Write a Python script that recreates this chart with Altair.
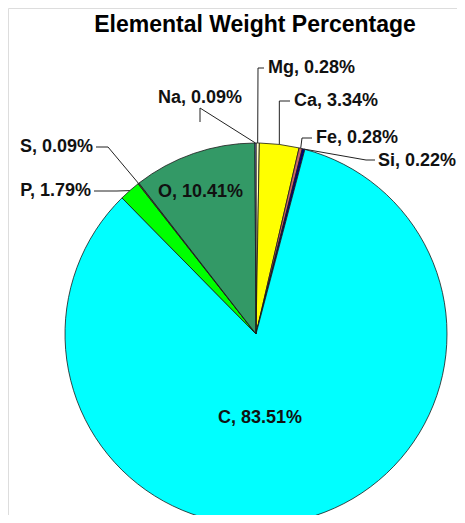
import math
import altair as alt
import pandas as pd

# ---- data ----
elements = ["Mg", "Ca", "Fe", "Si", "C", "P", "S", "O", "Na"]
percents = [0.28, 3.34, 0.28, 0.22, 83.51, 1.79, 0.09, 10.41, 0.09]
colors = ["#FFFFCC", "#FFFF00", "#CC6666", "#000080", "#00FFFF",
          "#00FF00", "#666633", "#339966", "#9999FF"]
title_text = "Elemental Weight Percentage"

# ---- layout (chart pixel coords; page = chart + 8) ----
W, H = 449, 507
CX, CY, R = 248, 326, 191
FONT = "Liberation Sans"

# label anchor positions (annotation placement), align, elbow points of leaders
label_pos = {
    "Mg": (260, 60, "left", [(250, 60), (256, 60)]),
    "Na": (192, 90, "center", [(192, 100), (192, 114)]),
    "Ca": (286, 93, "left", [None, (282, 93)]),
    "Fe": (308, 130, "left", [(294, 130), (304, 130)]),
    "Si": (370, 153, "left", [(358, 152), (367, 152)]),
    "S": (85, 139, "right", [(100, 139), (88, 139)]),
    "P": (83, 183, "right", [(109, 183), (86, 183)]),
    "O": (150, 184, "left", None),
    "C": (252, 410, "center", None),
}

df = pd.DataFrame({"element": elements, "pct": percents,
                   "idx": list(range(len(elements)))})

total = sum(percents)
cum = 0.0
edge = {}
for e, p in zip(elements, percents):
    a = (cum + p / 2) / total * 2 * math.pi
    edge[e] = (CX + R * math.sin(a), CY - R * math.cos(a))
    cum += p

line_rows = []
text_rows = []
for e, p in zip(elements, percents):
    lx, ly, al, elbows = label_pos[e]
    text_rows.append({"label": f"{e}, {p:.2f}%", "px": lx, "py": ly, "align": al})
    if elbows is None:
        continue
    ex, ey = edge[e]
    first, second = elbows
    if first is None:
        first = (ex, second[1])
    if e in ("S", "P"):
        pts = [second, first, (ex, ey)]
    else:
        pts = [(ex, ey), first, second]
    for i, (x, y) in enumerate(pts):
        line_rows.append({"label": e, "seq": i, "px": x, "py": y})

lines_df = pd.DataFrame(line_rows)
text_df = pd.DataFrame(text_rows)

pie = alt.Chart(df).mark_arc(radius=R, stroke="#1a1a1a", strokeWidth=0.8).encode(
    theta=alt.Theta("pct:Q", stack=True),
    color=alt.Color("element:N", sort=None,
                    scale=alt.Scale(domain=elements, range=colors), legend=None),
    order=alt.Order("idx:Q"),
    x=alt.value(CX),
    y=alt.value(CY),
)

leaders = alt.Chart(lines_df).mark_line(color="#222222", strokeWidth=1).encode(
    x=alt.X("px:Q", scale=None, axis=None),
    y=alt.Y("py:Q", scale=None, axis=None),
    detail="label:N",
    order="seq:Q",
)

layers = [pie, leaders]
for al in ["left", "right", "center"]:
    sub = text_df[text_df["align"] == al]
    layers.append(
        alt.Chart(sub).mark_text(align=al, baseline="middle", font=FONT,
                                 fontSize=18, fontWeight="bold", color="#111111").encode(
            x=alt.X("px:Q", scale=None, axis=None),
            y=alt.Y("py:Q", scale=None, axis=None),
            text="label:N",
        )
    )

title_df = pd.DataFrame({"label": [title_text], "px": [247], "py": [24]})
layers.append(
    alt.Chart(title_df).mark_text(align="center", baseline="alphabetic", font=FONT,
                                  fontSize=23, fontWeight="bold", color="#000000").encode(
        x=alt.X("px:Q", scale=None, axis=None),
        y=alt.Y("py:Q", scale=None, axis=None),
        text="label:N",
    )
)

chart = alt.layer(*layers).properties(
    width=W, height=H, padding=0,
    autosize=alt.AutoSizeParams(type="none"),
).configure_view(strokeWidth=0, stroke="transparent").configure(background="white")

chart.save("out.html", embed_options={"renderer": "svg", "actions": False})
